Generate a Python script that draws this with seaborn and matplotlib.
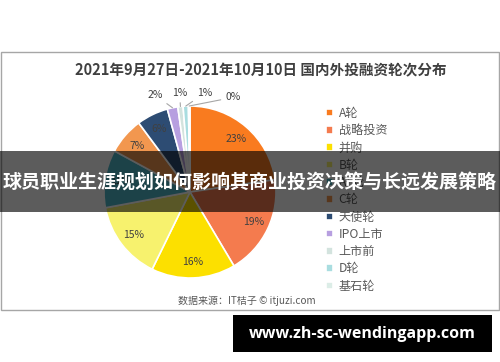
import matplotlib
matplotlib.use("Agg")
import matplotlib.pyplot as plt
import seaborn as sns
import numpy as np
from matplotlib.patches import Rectangle

# 轮次及占比(%)
rounds = ["A轮", "战略投资", "并购", "B轮", "A+轮", "C轮", "天使轮", "IPO上市", "上市前", "D轮", "基石轮"]
shares = [23, 19, 16, 15, 11, 7, 6, 2, 1, 1, 0.3]
colors = ["#F97B1F", "#F47B4E", "#FCE000", "#F7F26E", "#4FB8C8", "#F2974F",
          "#2D4C73", "#B79FE0", "#D3E3DE", "#A9DDE0", "#DCEDE7"]

title = "2021年9月27日-2021年10月10日 国内外投融资轮次分布"
source = "数据来源：IT桔子 © itjuzi.com"
banner = "球员职业生涯规划如何影响其商业投资决策与长远发展策略"
site = "www.zh-sc-wendingapp.com"

sns.set_theme(style="white")
plt.rcParams["font.family"] = ["Noto Sans CJK SC", "DejaVu Sans"]

W, H = 500, 362
fig = plt.figure(figsize=(5, 3.62), dpi=100)
fig.patch.set_facecolor("white")

# 图表外框
fig.add_artist(Rectangle((0.5 / W, (H - 310) / H), 498 / W, 258 / H, transform=fig.transFigure,
                         fill=False, edgecolor="#a6a6a6", lw=1, zorder=1))

fig.text(261 / W, 1 - 70 / H, title, ha="center", va="center", fontsize=10.5,
         fontweight="bold", color="#404040")

ax = fig.add_axes([90 / W, 70 / H, 200 / W, 200 / H])
wedges, _, autotexts = ax.pie(
    shares, colors=colors, startangle=90, counterclock=False, radius=1,
    autopct=lambda p: f"{p:.0f}%" if p >= 5 else "", pctdistance=0.82,
    wedgeprops=dict(edgecolor="white", linewidth=1.2),
    textprops=dict(color="#404040", fontsize=7.5),
)
lim = 100 / 86
ax.set_xlim(-lim, lim)
ax.set_ylim(-lim, lim)
ax.set_aspect("equal")
ax.axis("off")

# 小扇区的外部标签
total = sum(shares)
label_xy = [(-0.41, 1.13), (-0.12, 1.15), (0.17, 1.15), (0.50, 1.10)]
small = [i for i, s in enumerate(shares) if s / total * 100 < 5]
for (tx, ty), i in zip(label_xy, small):
    w = wedges[i]
    ang = np.deg2rad((w.theta1 + w.theta2) / 2)
    ax.annotate(f"{shares[i] / total * 100:.0f}%", xy=(np.cos(ang), np.sin(ang)),
                xytext=(tx, ty), ha="center", va="center", fontsize=7.5, color="#404040",
                arrowprops=dict(arrowstyle="-", color="#a6a6a6", lw=0.8,
                                shrinkA=1, shrinkB=0))

fig.legend(wedges, rounds, loc="upper left", bbox_to_anchor=(315 / W, 1 - 96 / H),
           frameon=False, fontsize=8.7, handlelength=0.6, handleheight=0.6,
           handletextpad=0.45, labelspacing=0.355, labelcolor="#595959")

fig.text(178 / W, 1 - 301 / H, source, fontsize=7.2, color="#595959", va="center")

# 横幅
fig.add_artist(Rectangle((0, (H - 212) / H), 1, 61 / H, transform=fig.transFigure,
                         facecolor="black", edgecolor="none", alpha=0.64, zorder=10))
fig.text(250 / W, 1 - 182 / H, banner, ha="center", va="center", fontsize=13.7,
         fontweight="bold", color="white", zorder=11)

fig.add_artist(Rectangle((233 / W, (H - 352) / H), 259 / W, 37 / H, transform=fig.transFigure,
                         facecolor="black", edgecolor="none", zorder=10))
fig.text(362 / W, 1 - 334 / H, site, ha="center", va="center", fontsize=11.5,
         fontweight="bold", color="white", family=["Open Sans", "DejaVu Sans"], zorder=11)

fig.savefig("out.png", dpi=100)
